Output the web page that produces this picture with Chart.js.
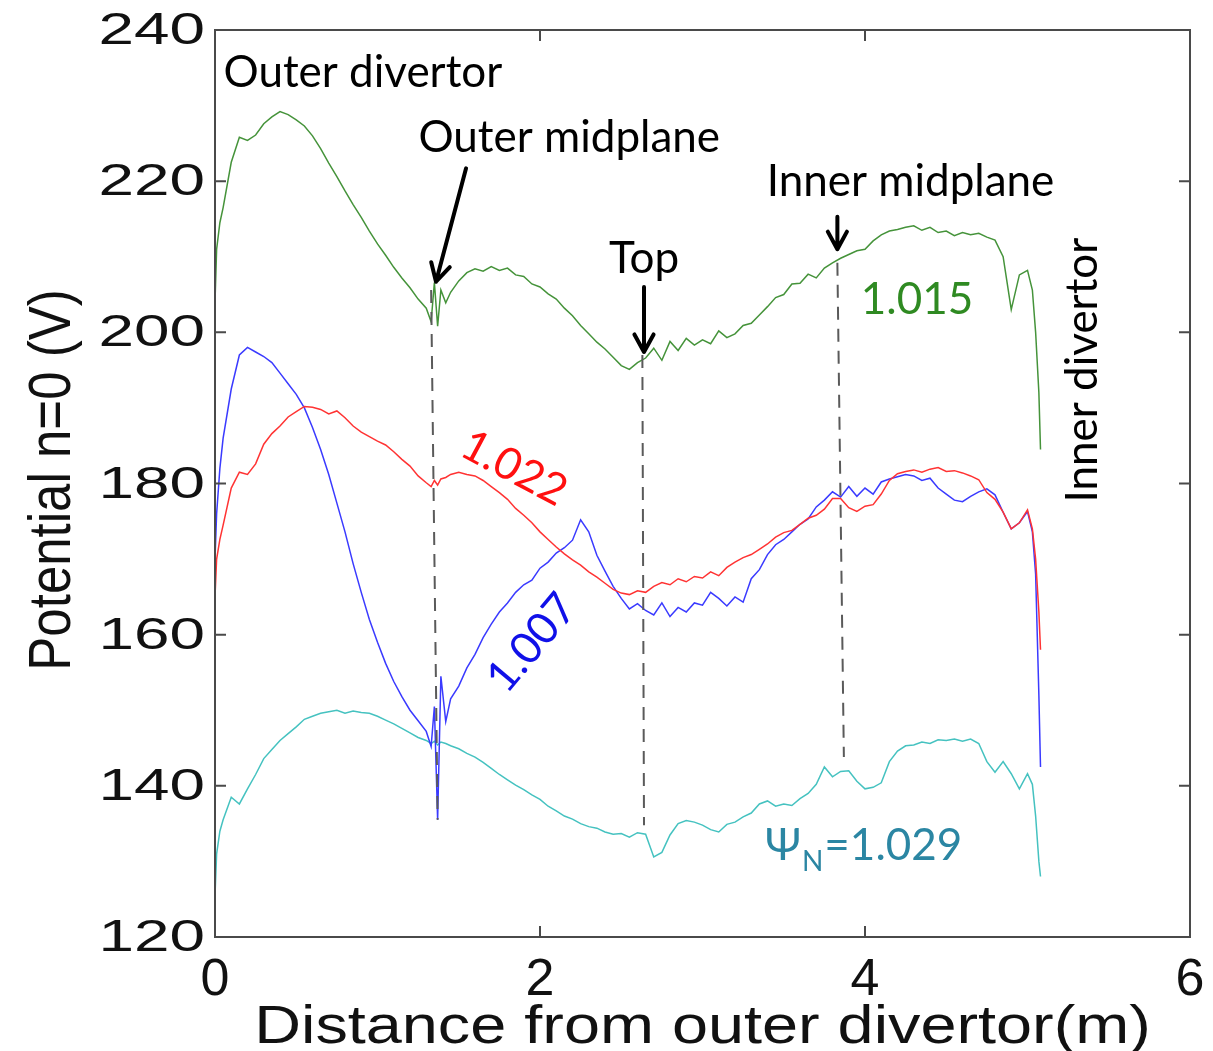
<!DOCTYPE html>
<html>
<head>
<meta charset="utf-8">
<script src="https://cdn.jsdelivr.net/npm/chart.js@4.4.0/dist/chart.umd.min.js"></script>
<style>
  html, body { margin: 0; padding: 0; background: #fff; }
  #wrap { width: 1213px; height: 1051px; }
</style>
</head>
<body>
<div id="wrap"><canvas id="myChart" width="1213" height="1051"></canvas></div>
<script>
// distance from outer divertor (m), shared by all traces
const distance = [
  0, 0.01, 0.03, 0.05,
  0.10, 0.15, 0.20, 0.25, 0.30, 0.35, 0.40, 0.45, 0.50, 0.55,
  0.60, 0.65, 0.70, 0.75, 0.80, 0.85, 0.90, 0.95, 1.00, 1.05,
  1.10, 1.15, 1.20, 1.25, 1.30, 1.33, 1.35, 1.37, 1.39, 1.42,
  1.45, 1.50, 1.55, 1.60, 1.65, 1.70, 1.75, 1.80, 1.85, 1.90,
  1.95, 2.00, 2.05, 2.10, 2.15, 2.20, 2.25, 2.30, 2.35, 2.40,
  2.45, 2.50, 2.55, 2.60, 2.65, 2.70, 2.75, 2.80, 2.85, 2.90,
  2.95, 3.00, 3.05, 3.10, 3.15, 3.20, 3.25, 3.30, 3.35, 3.40,
  3.45, 3.50, 3.55, 3.60, 3.65, 3.70, 3.75, 3.80, 3.85, 3.90,
  3.95, 4.00, 4.05, 4.10, 4.15, 4.20, 4.25, 4.30, 4.35, 4.40,
  4.45, 4.50, 4.55, 4.60, 4.65, 4.70, 4.75, 4.80, 4.85, 4.90,
  4.95, 5.00, 5.03, 5.05, 5.07, 5.08
];

// potential n=0 (V) for each flux surface
const psi1015 = [
  204.0, 211.0, 214.5, 216.5,
  222.5, 225.8, 225.4, 226.1, 227.6, 228.5, 229.2, 228.8, 228.1, 227.3,
  226.0, 224.3, 222.4, 220.6, 218.7, 216.9, 215.2, 213.4, 211.7, 210.2,
  208.6, 207.2, 205.9, 204.4, 203.2, 201.4, 206.6, 200.8, 205.6, 203.9,
  205.3, 206.8, 207.9, 208.4, 208.1, 208.7, 208.2, 208.5, 207.6, 207.4,
  206.4, 206.0, 205.1, 204.4, 203.2, 202.2, 200.9, 199.8, 198.7, 197.8,
  196.7, 195.6, 195.1, 196.0, 196.6, 197.9, 196.3, 198.8, 197.6, 199.2,
  198.3, 199.0, 198.5, 200.2, 199.3, 199.8, 200.9, 201.2, 202.3, 203.4,
  204.6, 205.0, 206.4, 206.5, 207.7, 207.2, 208.5, 209.2, 209.8, 210.3,
  210.8, 211.0, 212.1, 212.9, 213.4, 213.6, 213.9, 214.1, 213.5, 213.9,
  213.2, 213.4, 212.8, 213.2, 212.9, 213.1, 212.6, 212.2, 210.0, 203.0,
  207.6, 208.2, 205.6, 200.0, 192.0, 184.5
];
const psi1022 = [
  165.0, 170.0, 172.6, 174.5,
  179.4, 181.5, 181.2, 182.6, 185.2, 186.6, 187.6, 188.8, 189.5, 190.2,
  190.1, 189.8, 189.2, 189.6, 188.7, 187.6, 186.8, 186.2, 185.6, 185.1,
  184.2, 183.2, 182.3, 181.0, 180.1, 179.6, 180.4, 179.8, 180.6, 180.8,
  181.2, 181.5, 181.2, 181.0, 180.4, 179.6, 178.8, 177.9, 176.7, 175.8,
  174.8, 173.6, 172.6, 171.6, 170.7, 169.9, 169.2, 168.3, 167.6, 166.8,
  166.0, 165.5, 165.3, 165.8, 165.6, 166.4, 166.9, 166.6, 167.4, 167.0,
  167.7, 167.5, 168.3, 167.8, 168.9, 169.6, 170.2, 170.6, 171.3, 172.0,
  172.9, 173.5, 173.8, 174.6, 175.4, 175.8, 176.6, 178.0, 178.0, 176.8,
  176.3, 177.0, 177.2, 178.6, 180.4, 181.3, 181.6, 181.8, 181.5, 181.9,
  182.1, 181.6, 181.7, 181.4, 181.0, 180.5, 178.8, 177.9, 176.2, 174.0,
  174.8, 176.5, 174.0, 170.0, 163.0, 158.0
];
const psi1007 = [
  170.0, 176.0, 182.0, 186.0,
  192.5, 197.0, 198.0, 197.4, 196.8, 196.0, 194.6, 193.2, 191.8, 190.0,
  187.4, 184.5, 181.2, 177.4, 173.6, 169.4, 165.6, 162.0, 159.0, 156.2,
  153.8, 151.8, 150.0, 148.6, 147.2, 145.2, 150.5, 135.5, 154.5, 148.5,
  151.5, 153.2, 155.6, 157.4, 159.6, 161.4, 163.0, 164.2, 165.6, 166.6,
  167.2, 168.8, 169.6, 170.8, 171.5, 172.5, 175.2, 173.6, 170.5, 168.4,
  166.4, 164.8, 163.4, 164.1, 163.2, 162.6, 164.2, 162.4, 163.6, 163.0,
  164.2, 163.9, 165.6, 164.8, 163.8, 165.0, 164.3, 167.4, 168.6, 170.6,
  171.9, 172.6, 173.6, 174.6, 175.3, 176.9, 177.8, 178.9, 178.2, 179.6,
  178.3, 179.4, 178.6, 180.2, 180.6, 180.9, 181.2, 181.0, 180.4, 180.7,
  179.4, 178.6, 177.8, 177.6, 178.3, 178.9, 179.3, 178.5, 176.2, 174.0,
  174.8, 176.3, 173.6, 168.0, 152.0, 142.5
];
const psi1029 = [
  125.5, 131.0, 134.0, 135.5,
  138.5, 137.6, 139.6, 141.5, 143.6, 144.8, 146.0, 146.9, 147.8, 148.8,
  149.2, 149.6, 149.8, 150.0, 149.6, 149.9, 149.7, 149.6, 149.2, 148.7,
  148.2, 147.6, 147.0, 146.4, 146.0, 145.6, 145.9, 145.4, 145.8, 145.6,
  145.3, 144.9, 144.3, 143.8, 143.1, 142.3, 141.5, 140.8, 140.1, 139.5,
  138.8, 138.2, 137.3, 136.7, 136.0, 135.6, 135.0, 134.6, 134.4, 133.9,
  133.6, 133.7, 133.2, 133.8, 133.6, 130.6, 131.2, 133.5, 135.0, 135.4,
  135.2, 134.8, 134.2, 133.9, 134.9, 135.2, 135.9, 136.4, 137.6, 138.0,
  137.3, 137.6, 137.4, 138.3, 139.0, 140.2, 142.5, 141.2, 141.9, 142.0,
  140.6, 139.6, 139.8, 140.4, 143.2, 144.6, 145.3, 145.4, 145.8, 145.6,
  146.1, 146.0, 146.2, 145.9, 146.2, 145.6, 143.2, 141.8, 143.2, 141.6,
  139.6, 141.6, 140.2, 136.0, 130.0, 128.0
];

const xTicks = [0, 2, 4, 6];
const yTicks = [120, 140, 160, 180, 200, 220, 240];

// dashed markers: outer midplane, top, inner midplane (top end, bottom end)
const markerX = [[1.33, 1.37], [2.63, 2.64], [3.83, 3.87]];
const markerV = [[205.6, 135.5], [197.0, 134.8], [209.2, 143.8]];

// arrows pointing at the markers (from, to) in data units
const arrowFrom = [[1.545, 221.7], [2.64, 206.0], [3.83, 215.3]];
const arrowTo = [[1.36, 206.7], [2.64, 197.4], [3.83, 211.0]];

const pts = (vals) => vals.map((v, i) => ({ x: distance[i], y: v }));

const notes = [
  { text: 'Outer divertor', x: 0.91, y: 234.3, color: '#000', angle: 0 },
  { text: 'Outer midplane', x: 2.18, y: 225.8, color: '#000', angle: 0 },
  { text: 'Top', x: 2.64, y: 209.7, color: '#000', angle: 0 },
  { text: 'Inner midplane', x: 4.28, y: 219.9, color: '#000', angle: 0 },
  { text: '1.015', x: 4.32, y: 204.3, color: '#2f8a22', angle: 0 },
  { text: '1.022', x: 1.84, y: 182.0, color: '#ff1010', angle: 28 },
  { text: '1.007', x: 1.95, y: 158.9, color: '#1010e8', angle: -50 },
  { text: 'Inner divertor', x: 5.34, y: 195.0, color: '#000', angle: -90 }
];

const drawArrow = (ctx, x0, y0, x1, y1) => {
  const ang = Math.atan2(y1 - y0, x1 - x0);
  const head = 20;
  ctx.beginPath();
  ctx.moveTo(x0, y0);
  ctx.lineTo(x1, y1);
  ctx.moveTo(x1 - head * Math.cos(ang - 0.5), y1 - head * Math.sin(ang - 0.5));
  ctx.lineTo(x1, y1);
  ctx.lineTo(x1 - head * Math.cos(ang + 0.5), y1 - head * Math.sin(ang + 0.5));
  ctx.stroke();
};

const decorations = {
  id: 'decorations',
  afterDraw(chart) {
    const { ctx, chartArea: a, scales: { x, y } } = chart;
    ctx.save();

    // axes box
    ctx.strokeStyle = '#4a4a4a';
    ctx.lineWidth = 2;
    ctx.strokeRect(a.left, a.top, a.right - a.left, a.bottom - a.top);

    // inward tick marks on all four sides
    ctx.beginPath();
    yTicks.slice(1, -1).forEach(v => {
      const p = y.getPixelForValue(v);
      ctx.moveTo(a.left, p); ctx.lineTo(a.left + 11, p);
      ctx.moveTo(a.right, p); ctx.lineTo(a.right - 11, p);
    });
    xTicks.slice(1, -1).forEach(v => {
      const p = x.getPixelForValue(v);
      ctx.moveTo(p, a.bottom); ctx.lineTo(p, a.bottom - 11);
      ctx.moveTo(p, a.top); ctx.lineTo(p, a.top + 11);
    });
    ctx.stroke();

    // tick labels (y ones are drawn stretched like the original)
    ctx.fillStyle = '#111';
    ctx.font = '44px "Liberation Sans", Arial, sans-serif';
    ctx.textAlign = 'right';
    ctx.textBaseline = 'middle';
    yTicks.forEach(v => {
      ctx.save();
      ctx.translate(a.left - 10, y.getPixelForValue(v) + 2);
      ctx.scale(1.45, 1);
      ctx.fillText(String(v), 0, 0);
      ctx.restore();
    });
    ctx.font = '52px "Liberation Sans", Arial, sans-serif';
    ctx.textAlign = 'center';
    ctx.textBaseline = 'alphabetic';
    xTicks.forEach(v => ctx.fillText(String(v), x.getPixelForValue(v), a.bottom + 58));

    // axis titles
    ctx.save();
    ctx.font = '54px "Liberation Sans", Arial, sans-serif';
    ctx.translate((a.left + a.right) / 2, 1043);
    ctx.scale(1.2, 1);
    ctx.fillText('Distance from outer divertor(m)', 0, 0);
    ctx.restore();

    ctx.save();
    ctx.font = '60px "Liberation Sans", Arial, sans-serif';
    ctx.translate(70, 480);
    ctx.rotate(-Math.PI / 2);
    ctx.scale(0.85, 1);
    ctx.textAlign = 'center';
    ctx.fillText('Potential n=0 (V)', 0, 0);
    ctx.restore();

    // arrows
    ctx.strokeStyle = '#000';
    ctx.lineWidth = 4;
    ctx.lineCap = 'round';
    ctx.lineJoin = 'round';
    arrowFrom.forEach((f, i) => {
      drawArrow(ctx, x.getPixelForValue(f[0]), y.getPixelForValue(f[1]),
        x.getPixelForValue(arrowTo[i][0]), y.getPixelForValue(arrowTo[i][1]));
    });

    // text notes
    ctx.font = '44px Lato, "Open Sans", sans-serif';
    ctx.textAlign = 'center';
    ctx.textBaseline = 'middle';
    notes.forEach(n => {
      ctx.save();
      ctx.translate(x.getPixelForValue(n.x), y.getPixelForValue(n.y));
      ctx.rotate(n.angle * Math.PI / 180);
      ctx.fillStyle = n.color;
      ctx.fillText(n.text, 0, 0);
      ctx.restore();
    });

    // psi_N label with subscript
    let px = x.getPixelForValue(3.385);
    const py = y.getPixelForValue(130.2);
    ctx.fillStyle = '#2b86a3';
    ctx.textAlign = 'left';
    ctx.textBaseline = 'alphabetic';
    ctx.font = '44px Lato, "Noto Sans", sans-serif';
    ctx.fillText('Ψ', px, py);
    px += ctx.measureText('Ψ').width + 1;
    ctx.font = '28px Lato, "Noto Sans", sans-serif';
    ctx.fillText('N', px, py + 11);
    px += ctx.measureText('N').width + 1;
    ctx.font = '44px Lato, "Noto Sans", sans-serif';
    ctx.fillText('=1.029', px, py);

    ctx.restore();
  }
};

const line = (label, vals, color) => ({
  label, data: pts(vals), borderColor: color, borderWidth: 1.5,
  pointRadius: 0, tension: 0, fill: false
});
const dash = (i) => ({
  label: 'marker' + i,
  data: markerX[i].map((mx, k) => ({ x: mx, y: markerV[i][k] })),
  borderColor: '#5a5a5a', borderWidth: 2, borderDash: [13, 9],
  pointRadius: 0, fill: false
});

new Chart(document.getElementById('myChart'), {
  type: 'line',
  data: {
    datasets: [
      dash(0), dash(1), dash(2),
      line('1.015', psi1015, '#45933a'),
      line('1.022', psi1022, '#ff3333'),
      line('1.007', psi1007, '#3a3aff'),
      line('1.029', psi1029, '#45c2c0')
    ]
  },
  options: {
    responsive: false,
    animation: false,
    layout: { padding: { left: 0, top: 30, right: 23, bottom: 0 } },
    plugins: { legend: { display: false }, tooltip: { enabled: false } },
    scales: {
      x: {
        type: 'linear', min: 0, max: 6,
        grid: { display: false }, border: { display: false },
        ticks: { display: false },
        afterFit(s) { s.height = 114; }
      },
      y: {
        type: 'linear', min: 120, max: 240,
        grid: { display: false }, border: { display: false },
        ticks: { display: false },
        afterFit(s) { s.width = 215; }
      }
    }
  },
  plugins: [decorations]
});
</script>
</body>
</html>
